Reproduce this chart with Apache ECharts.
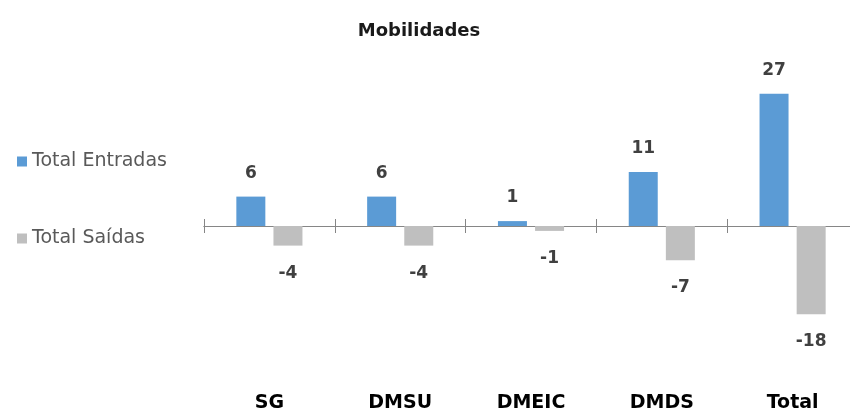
<!DOCTYPE html>
<html>
<head>
<meta charset="utf-8">
<script src="https://cdn.jsdelivr.net/npm/echarts@6/dist/echarts.min.js"></script>
<style>
  html, body { margin: 0; padding: 0; background: #fff; }
</style>
</head>
<body>
<div id="mobilidadesChart" style="width: 850px; height: 411px;"></div>
<script>
const categories = ['SG', 'DMSU', 'DMEIC', 'DMDS', 'Total']
const entradas = [6, 6, 1, 11, 27]
const saidas = [-4, -4, -1, -7, -18]

const chart = echarts.init(document.getElementById('mobilidadesChart'))
const font = 'DejaVu Sans'

chart.setOption({
  animation: false,
  title: {
    text: 'Mobilidades',
    left: 414,
    top: 17,
    textAlign: 'center',
    textStyle: { fontFamily: font, fontSize: 18, fontWeight: 'bold', color: '#1a1a1a' }
  },
  legend: {
    orient: 'vertical',
    left: 12,
    top: 147,
    itemWidth: 10,
    itemHeight: 10,
    itemGap: 58,
    icon: 'rect',
    data: ['Total Entradas', 'Total Saídas'],
    textStyle: { fontFamily: font, fontSize: 19, color: '#595959' }
  },
  grid: { left: 204, top: 79, width: 654, height: 294, outerBoundsMode: 'none', containLabel: false },
  xAxis: [
    {
      // linha do zero, ticks para baixo
      type: 'category',
      data: categories,
      position: 'bottom',
      axisLine: { onZero: true, lineStyle: { color: '#868686', width: 1 } },
      axisTick: { show: true, length: 7, lineStyle: { color: '#868686' } },
      axisLabel: { show: false }
    },
    {
      // ticks para cima
      type: 'category',
      data: categories,
      position: 'bottom',
      axisLine: { onZero: true, onZeroAxisIndex: 1, lineStyle: { color: '#868686', width: 1 } },
      axisTick: { show: true, inside: true, length: 7, lineStyle: { color: '#868686' } },
      axisLabel: { show: false }
    },
    {
      // nomes das categorias em baixo
      type: 'category',
      data: categories,
      position: 'bottom',
      axisLine: { show: false, onZero: false },
      axisTick: { show: false },
      axisLabel: { margin: 21, fontFamily: font, fontSize: 19, fontWeight: 'bold', color: '#000' }
    }
  ],
  yAxis: [
    { type: 'value', min: -30, max: 30, show: false, splitLine: { show: false } },
    { type: 'value', min: -30, max: 30, show: false, splitLine: { show: false } }
  ],
  series: [
    {
      name: 'Total Entradas',
      type: 'bar',
      data: entradas,
      barWidth: 29,
      barGap: '28%',
      itemStyle: { color: '#5B9BD5' },
      label: {
        show: true,
        position: 'top',
        distance: 15,
        fontFamily: font,
        fontSize: 17,
        fontWeight: 'bold',
        color: '#404040'
      }
    },
    {
      name: 'Total Saídas',
      type: 'bar',
      data: saidas,
      barWidth: 29,
      itemStyle: { color: '#BFBFBF' },
      label: {
        show: true,
        position: 'bottom',
        distance: 19,
        fontFamily: font,
        fontSize: 17,
        fontWeight: 'bold',
        color: '#404040'
      }
    }
  ]
})
</script>
</body>
</html>
